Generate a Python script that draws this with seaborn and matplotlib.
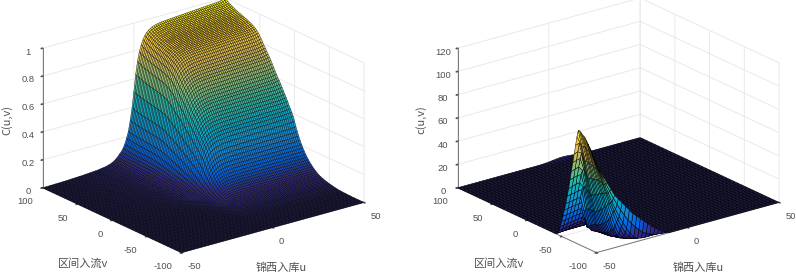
import numpy as np
import matplotlib
matplotlib.use("Agg")
import matplotlib.pyplot as plt
from matplotlib.colors import LinearSegmentedColormap
import seaborn as sns
from mpl_toolkits.mplot3d import Axes3D  # noqa

# --- values ---
u_left = list(range(-50, 51))
# C(u, 100), the back-left edge of the first surface
c_edge_u = [.000, .000, .000, .000, .001, .001, .001, .002, .002, .002,
            .003, .003, .004, .004, .005, .005, .006, .007, .007, .008,
            .009, .009, .010, .011, .012, .013, .014, .015, .016, .017,
            .018, .020, .022, .024, .026, .029, .033, .037, .042, .050,
            .060, .072, .088, .102, .122, .150, .190, .235, .310, .395,
            .510, .630, .720, .785, .830, .865, .890, .908, .920, .930,
            .937, .942, .946, .949, .952, .954, .955, .957, .958, .959,
            .960, .961, .962, .963, .964, .965, .966, .967, .968, .969,
            .970, .971, .972, .973, .974, .975, .976, .977, .978, .979,
            .980, .981, .982, .983, .984, .985, .986, .988, .992, .997, 1.0]
v_left = list(range(-100, 101, 2))
# C(50, v), the back-right edge of the first surface
c_edge_v = [.000, .000, .000, .000, .000, .000, .000, .000, .000, .000,
            .001, .001, .001, .002, .002, .003, .003, .004, .005, .007,
            .008, .010, .012, .014, .016, .018, .021, .024, .027, .031,
            .035, .039, .044, .050, .057, .065, .074, .084, .095, .107,
            .120, .134, .150, .168, .187, .207, .232, .258, .285, .315,
            .350, .380, .405, .425, .445, .470, .490, .510, .530, .550,
            .570, .590, .605, .625, .645, .665, .685, .705, .725, .740,
            .758, .775, .792, .810, .828, .845, .860, .872, .882, .890,
            .897, .903, .908, .913, .918, .922, .926, .930, .934, .938,
            .941, .945, .950, .955, .960, .966, .972, .978, .984, .992, 1.0]

u_right = list(range(-50, 51, 2))
v_right = list(range(-100, 101, 2))
# c(u,v) around the spike: u = -50..-12 step 2, v = -100..-40 step 2
spike_u = list(range(-50, -10, 2))
spike_v = list(range(-100, -38, 2))
spike = [
    [75, 69, 63, 57, 51, 45, 41, 37, 33, 29, 25, 22, 19, 16, 13, 10, 7.5, 5, 3, 1.5],
    [77, 70, 63, 56, 49, 42, 36, 30, 25, 20, 16, 12, 9, 6, 4, 2.5, 1.5, .8, .3, 0],
    [80, 72, 64, 55, 47, 38, 31, 24, 18, 12, 7, 3, 1, .3, 0, 0, 0, 0, 0, 0],
    [83, 74, 65, 55, 46, 37, 29, 21, 14, 8, 4, 1.2, .3, 0, 0, 0, 0, 0, 0, 0],
    [86, 76, 66, 56, 46, 36, 27, 18, 11, 5, 2, .5, 0, 0, 0, 0, 0, 0, 0, 0],
    [88, 78, 67, 56, 45, 34, 24, 14, 7, 3, .8, .1, 0, 0, 0, 0, 0, 0, 0, 0],
    [90, 79, 68, 56, 44, 32, 21, 11, 5, 1.5, .3, 0, 0, 0, 0, 0, 0, 0, 0, 0],
    [92, 80, 68, 56, 44, 31, 19, 10, 4, 1, .1, 0, 0, 0, 0, 0, 0, 0, 0, 0],
    [94, 82, 69, 56, 43, 30, 18, 9, 3, .7, 0, 0, 0, 0, 0, 0, 0, 0, 0, 0],
    [95, 82, 69, 55, 42, 28, 16, 7, 2, .4, 0, 0, 0, 0, 0, 0, 0, 0, 0, 0],
    [96, 83, 69, 55, 41, 27, 15, 6, 1.5, .2, 0, 0, 0, 0, 0, 0, 0, 0, 0, 0],
    [97, 84, 70, 55, 40, 26, 14, 5, 1.2, 0, 0, 0, 0, 0, 0, 0, 0, 0, 0, 0],
    [98, 84, 70, 55, 40, 25, 13, 4.5, 1, 0, 0, 0, 0, 0, 0, 0, 0, 0, 0, 0],
    [98, 83, 69, 54, 39, 24, 12, 4, .8, 0, 0, 0, 0, 0, 0, 0, 0, 0, 0, 0],
    [92, 85, 70, 54, 38, 23, 11, 3.5, .6, 0, 0, 0, 0, 0, 0, 0, 0, 0, 0, 0],
    [84, 85, 72, 56, 39, 23, 10, 3, .5, 0, 0, 0, 0, 0, 0, 0, 0, 0, 0, 0],
    [76, 77, 75, 58, 40, 23, 10, 3, .4, 0, 0, 0, 0, 0, 0, 0, 0, 0, 0, 0],
    [68, 69, 70, 60, 41, 23, 10, 2.5, .3, 0, 0, 0, 0, 0, 0, 0, 0, 0, 0, 0],
    [60, 61, 62, 58, 42, 23, 9, 2, .2, 0, 0, 0, 0, 0, 0, 0, 0, 0, 0, 0],
    [52, 53, 54, 54, 42, 23, 8, 1.8, .2, 0, 0, 0, 0, 0, 0, 0, 0, 0, 0, 0],
    [44, 45, 46, 46.5, 42, 22, 7, 1.5, .1, 0, 0, 0, 0, 0, 0, 0, 0, 0, 0, 0],
    [37, 37.5, 38, 39, 39, 21, 6, 1, .1, 0, 0, 0, 0, 0, 0, 0, 0, 0, 0, 0],
    [30, 30.5, 31, 31.5, 32, 19, 5, .8, 0, 0, 0, 0, 0, 0, 0, 0, 0, 0, 0, 0],
    [24, 24.5, 25, 25.5, 26, 26, 14, 3, .4, 0, 0, 0, 0, 0, 0, 0, 0, 0, 0, 0],
    [18, 18.5, 19, 19.5, 20, 20.5, 10, 2, .3, 0, 0, 0, 0, 0, 0, 0, 0, 0, 0, 0],
    [13, 13.5, 14, 14.5, 15, 15.5, 14, 1.5, .2, 0, 0, 0, 0, 0, 0, 0, 0, 0, 0, 0],
    [8, 8.5, 9, 9.5, 10, 10.5, 11, 4, .5, 0, 0, 0, 0, 0, 0, 0, 0, 0, 0, 0],
    [4, 4.5, 5, 5.5, 6, 6.5, 7, 4, .7, .1, 0, 0, 0, 0, 0, 0, 0, 0, 0, 0],
    [1, 1.5, 2, 2.5, 3, 3.5, 4, 4.5, 3, .5, 0, 0, 0, 0, 0, 0, 0, 0, 0, 0],
    [.5, .6, .7, .8, .9, 1, 1.1, 1.2, 1, .3, 0, 0, 0, 0, 0, 0, 0, 0, 0, 0],
    [0, 0, 0, 0, 0, 0, 0, 0, 0, 0, 0, 0, 0, 0, 0, 0, 0, 0, 0, 0],
]
# small hump on the far edge of the second surface, v = 100
hump_u = [-4, -2, 0, 2, 4, 6, 8, 10, 12, 14, 16, 18]
hump_z = [.1, .3, .6, 1, 1.4, 1.7, 1.8, 1.6, 1.3, .9, .5, .2]

x_ticks = [-50, 0, 50]
y_ticks = [-100, -50, 0, 50, 100]
z_ticks_left = [0, 0.2, 0.4, 0.6, 0.8, 1]
z_labels_left = ["0", "0.2", "0.4", "0.6", "0.8", "1"]
z_ticks_right = [0, 20, 40, 60, 80, 100, 120]

# parula, with a darker foot so the flat floor keeps its navy tone
parula = [(0, "#1e1c60"), (.02, "#2a2580"), (.06, "#352a87"), (.15, "#0363e1"), (.27, "#1485d4"),
          (.4, "#06a7c6"), (.53, "#38b99e"), (.66, "#92bf73"), (.78, "#d9ba56"),
          (.9, "#fcce2e"), (1, "#f9fb0e")]

sns.set_theme(style="white")
plt.rcParams["font.family"] = ["Liberation Sans", "Noto Sans CJK SC"]
plt.rcParams["axes.unicode_minus"] = False
cmap = LinearSegmentedColormap.from_list("parula", parula)
W, H = 796, 274
TEXT = "#505050"

# --- build the two surfaces ---
C = np.outer(np.array(c_edge_v), np.array(c_edge_u))
c = np.zeros((len(v_right), len(u_right)))
c[:len(spike_v), :len(spike_u)] = np.array(spike)
c[-1, [u_right.index(k) for k in hump_u]] = hump_z
c[-2, [u_right.index(k) for k in hump_u]] = np.array(hump_z) * 0.6
c[-3, [u_right.index(k) for k in hump_u]] = np.array(hump_z) * 0.3

fig = plt.figure(figsize=(W / 100, H / 100), dpi=100, facecolor="white")


def panel(cx, uu, vv, zz, zmax, zt, zl, lw):
    size = 420
    ax = fig.add_axes([(cx - size / 2) / W, 1 - (131 + size / 2) / H, size / W, size / H],
                      projection="3d", proj_type="ortho")
    ax.patch.set_visible(False)
    ax.view_init(elev=21, azim=-127.5)
    ax.set_box_aspect((231, 229, 150), zoom=0.825)
    X, Y = np.meshgrid(uu, vv)
    mids = (zz[:-1, :-1] + zz[1:, :-1] + zz[:-1, 1:] + zz[1:, 1:]) / 4
    cols = cmap(mids / np.nanmax(zz))
    ax.plot_surface(X, Y, zz, rstride=1, cstride=1, facecolors=cols, shade=False,
                    edgecolor=(0, 0, 0, 0.9), linewidth=lw, antialiased=True)
    ax.set_xlim(-50, 50)
    ax.set_ylim(-100, 100)
    ax.set_zlim(0, zmax)
    ax.set_xticks(x_ticks)
    ax.set_yticks(y_ticks)
    ax.set_zticks(zt)
    ax.set_zticklabels(zl)
    ax.zaxis.set_ticks_position("upper")
    for a in (ax.xaxis, ax.yaxis, ax.zaxis):
        a.set_pane_color((1, 1, 1, 0))
        a.pane.set_edgecolor("#e6e6e6")
        a._axinfo["grid"]["color"] = "#e6e6e6"
        a._axinfo["grid"]["linewidth"] = 0.6
        a._axinfo["tick"]["inward_factor"] = 0.08
        a._axinfo["tick"]["outward_factor"] = 0.0
        a._axinfo["tick"]["color"] = "#777777"
        a.line.set_color("#777777")
        a.line.set_linewidth(0.7)
        a.set_tick_params(labelsize=6.8, colors=TEXT, pad=-1)
    ax.yaxis.set_tick_params(pad=0)
    plt.setp(ax.get_xticklabels(), ha="left")
    plt.setp(ax.get_yticklabels(), ha="right")
    return ax


panel(197.6, u_left, v_left, C, 1, z_ticks_left, z_labels_left, 0.28)
panel(612.6, u_right, v_right, c, 120, z_ticks_right, [str(t) for t in z_ticks_right], 0.36)


def label(x, y, s, rot=0):
    fig.text(x / W, 1 - y / H, s, fontsize=8, color=TEXT, rotation=rot, ha="center", va="center",
             family=["Noto Sans CJK SC", "Liberation Sans"])


label(83, 264, "区间入流v")
label(281, 268, "锦西入库u")
label(7, 120, "C(u,v)", 90)
label(499, 264, "区间入流v")
label(698, 268, "锦西入库u")
label(421, 120, "c(u,v)", 90)

fig.savefig("out.png", dpi=100)
